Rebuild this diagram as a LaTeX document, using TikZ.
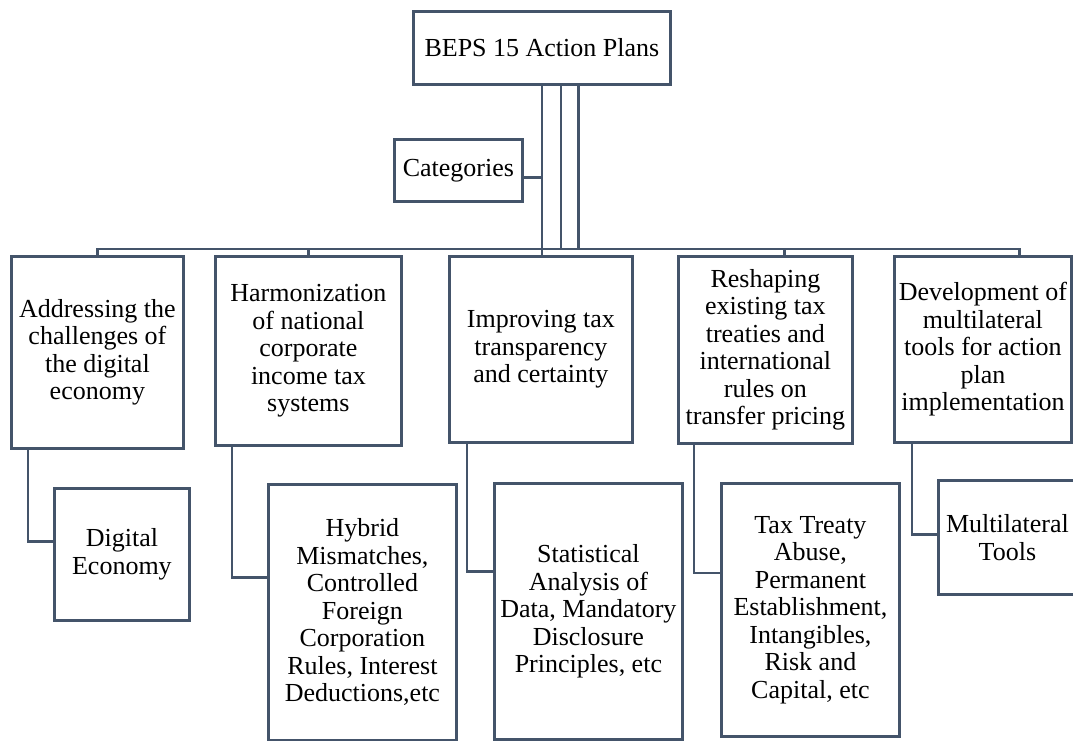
\documentclass[tikz,border=0pt]{standalone}
\usepackage{fontspec}
\setmainfont{Liberation Serif}
\definecolor{linecol}{HTML}{44546A}
\tikzset{
  planbox/.style={draw=linecol, line width=2.8pt, anchor=north west, inner sep=0pt,
    align=center, font=\fontsize{26}{27.5}\selectfont},
  link/.style={draw=linecol, line width=2.8pt},
}
\begin{document}
\begin{tikzpicture}[x=1pt, y=-1pt]
  \useasboundingbox (0,0) rectangle (1073,740);
  % Top of the chart and the side label.
  \node[planbox, minimum width=257pt, minimum height=73pt] (beps) at (412,10) {BEPS 15 Action Plans};
  \node[planbox, minimum width=128pt, minimum height=62pt] (cat) at (393,138) {Categories};
  % First row: the five categories.
  \node[planbox, minimum width=172pt, minimum height=192pt] (a1) at (10,255)
    {Addressing the\\challenges of\\the digital\\economy};
  \node[planbox, minimum width=186pt, minimum height=189pt] (a2) at (214,255)
    {Harmonization\\of national\\corporate\\income tax\\systems};
  \node[planbox, minimum width=183pt, minimum height=186pt] (a3) at (448,255)
    {Improving tax\\transparency\\and certainty};
  \node[planbox, minimum width=174pt, minimum height=187pt] (a4) at (677,255)
    {Reshaping\\existing tax\\treaties and\\international\\rules on\\transfer pricing};
  \node[planbox, minimum width=177pt, minimum height=186pt] (a5) at (893,255)
    {Development of\\multilateral\\tools for action\\plan\\implementation};
  % Second row: what each category covers.
  \node[planbox, minimum width=135pt, minimum height=132pt] (b1) at (53,487) {Digital\\Economy};
  \node[planbox, minimum width=188pt, minimum height=256pt] (b2) at (267,483)
    {Hybrid\\Mismatches,\\Controlled\\Foreign\\Corporation\\Rules, Interest\\Deductions,etc};
  \node[planbox, minimum width=188pt, minimum height=256pt] (b3) at (493,482)
    {Statistical\\Analysis of\\Data, Mandatory\\Disclosure\\Principles, etc};
  \node[planbox, minimum width=178pt, minimum height=253pt] (b4) at (720,482)
    {Tax Treaty\\Abuse,\\Permanent\\Establishment,\\Intangibles,\\Risk and\\Capital, etc};
  \node[planbox, minimum width=138pt, minimum height=114pt] (b5) at (937,479) {Multilateral\\Tools};
  % Connectors from the top box.
  \coordinate (bar) at (0,249);
  \draw[link] (beps.south) -- (a3.north -| beps.south);
  \draw[link] ([yshift=-7pt]cat.east) -- ([yshift=-7pt]cat.east -| beps.south);
  \draw[link] (a1.north) -- (a1.north |- bar) -- ([xshift=36.5pt]a5.north |- bar) -- ([xshift=36.5pt]a5.north);
  \draw[link] (a2.north) -- (a2.north |- bar);
  \draw[link] ([xshift=19pt]beps.south) -- ([xshift=19pt]beps.south |- bar);
  \draw[link] ([xshift=36.5pt]beps.south) -- ([xshift=36.5pt]beps.south |- bar);
  \draw[link] ([xshift=19pt]a4.north) -- ([xshift=19pt]a4.north |- bar);
  % Connectors down to the second row.
  \draw[link] ([xshift=18pt]a1.south west) |- ([yshift=13pt]b1.west);
  \draw[link] ([xshift=18pt]a2.south west) |- ([yshift=35pt]b2.west);
  \draw[link] ([xshift=19pt]a3.south west) |- ([yshift=40pt]b3.west);
  \draw[link] ([xshift=17pt]a4.south west) |- ([yshift=37pt]b4.west);
  \draw[link] ([xshift=19pt]a5.south west) |- ([yshift=3pt]b5.west);
\end{tikzpicture}
\end{document}
